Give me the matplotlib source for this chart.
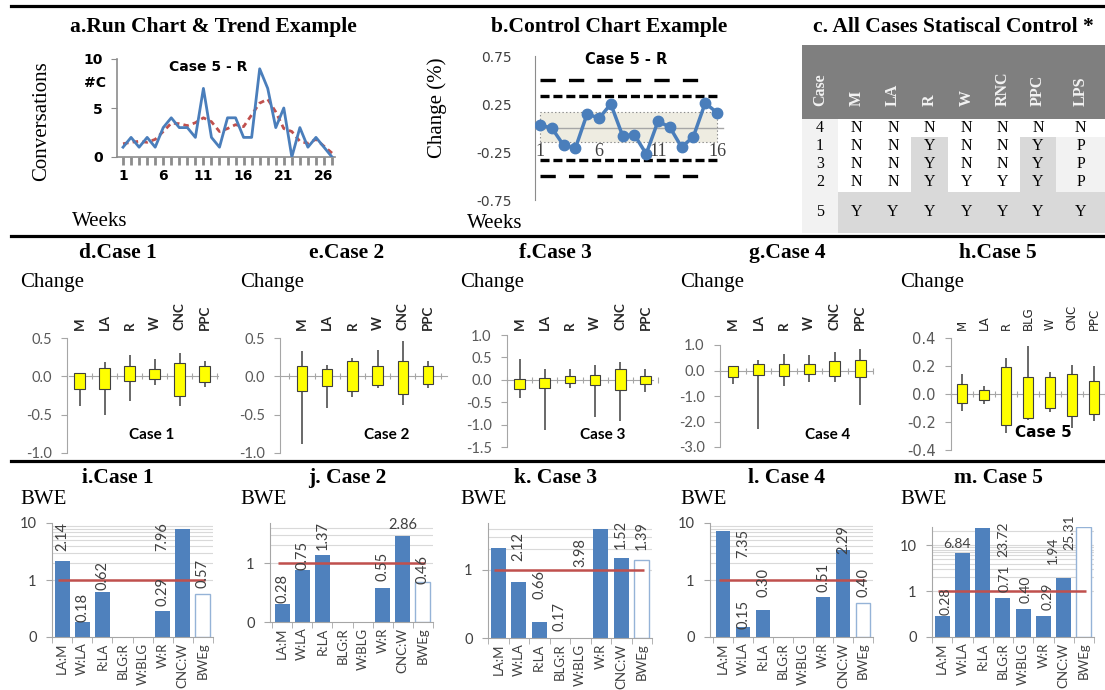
import numpy as np
import matplotlib
matplotlib.use("Agg")
import matplotlib.pyplot as plt
from matplotlib.patches import Rectangle
from matplotlib.lines import Line2D
from matplotlib import transforms

W, H = 1105, 690
SERIF = "Liberation Serif"
EXCEL = "Lato"
VERD = "DejaVu Sans"

# ---------------- data ----------------
# a. run chart, case 5 - R
run_weeks = list(range(1, 28))
run_conv = [1, 2, 1, 2, 1, 3, 4, 3, 3, 2, 7, 2, 1, 4, 4, 2, 2, 9, 7, 3, 5, 0, 3, 1, 2, 1, 0]
run_trend = [1.35, 1.5, 1.6, 1.5, 1.8, 2.6, 3.45, 3.4, 3.2, 3.5, 4.0, 3.6, 2.6, 2.9,
             3.3, 3.1, 4.3, 5.5, 5.9, 4.6, 2.9, 2.6, 1.6, 1.4, 1.8, 1.1, 0.4]
run_xticks = [1, 6, 11, 16, 21, 26]
run_yticks = [0, 5, 10]

# b. control chart, case 5 - R
ctrl_weeks = list(range(1, 17))
ctrl_change = [0.03, 0.0, -0.18, -0.21, 0.15, 0.10, 0.25, -0.08, -0.07, -0.27,
               0.07, 0.01, -0.20, -0.09, 0.26, 0.16]
ctrl_outer = 0.5
ctrl_inner = 0.33
ctrl_band = (-0.15, 0.17)
ctrl_yticks = [0.75, 0.25, -0.25, -0.75]
ctrl_xlabels = [1, 6, 11, 16]

# c. statistical control table
table_cols = ["Case", "M", "LA", "R", "W", "RNC", "PPC", "LPS"]
table_cases = ["4", "1", "3", "2", "5"]
table_vals = [
    ["N", "N", "N", "N", "N", "N", "N"],
    ["N", "N", "Y", "N", "N", "Y", "P"],
    ["N", "N", "Y", "N", "N", "Y", "P"],
    ["N", "N", "Y", "Y", "Y", "Y", "P"],
    ["Y", "Y", "Y", "Y", "Y", "Y", "Y"],
]

# d-h. weekly change boxes (q1, q3, min, max)
box_cats = ["M", "LA", "R", "W", "CNC", "PPC"]
box_cats5 = ["M", "LA", "R", "BLG", "W", "CNC", "PPC"]
c1_q1 = [-0.16, -0.16, -0.06, -0.03, -0.25, -0.08]
c1_q3 = [0.04, 0.11, 0.14, 0.09, 0.17, 0.14]
c1_lo = [-0.39, -0.51, -0.32, -0.11, -0.39, -0.14]
c1_hi = [0.04, 0.19, 0.28, 0.22, 0.30, 0.20]
c2_q1 = [-0.19, -0.12, -0.19, -0.11, -0.23, -0.10]
c2_q3 = [0.14, 0.10, 0.20, 0.13, 0.20, 0.13]
c2_lo = [-0.88, -0.41, -0.27, -0.15, -0.38, -0.15]
c2_hi = [0.33, 0.15, 0.24, 0.35, 0.46, 0.20]
c3_q1 = [-0.20, -0.18, -0.08, -0.11, -0.23, -0.10]
c3_q3 = [0.01, 0.05, 0.09, 0.11, 0.25, 0.09]
c3_lo = [-0.40, -1.13, -0.19, -0.83, -0.93, -0.28]
c3_hi = [0.46, 0.24, 0.24, 0.33, 0.39, 0.24]
c4_q1 = [-0.25, -0.16, -0.20, -0.12, -0.22, -0.25]
c4_q3 = [0.17, 0.25, 0.25, 0.25, 0.37, 0.40]
c4_lo = [-0.54, -2.30, -0.62, -0.45, -0.45, -1.35]
c4_hi = [0.17, 0.42, 0.65, 0.59, 0.71, 0.84]
c5_q1 = [-0.065, -0.04, -0.22, -0.17, -0.10, -0.16, -0.145]
c5_q3 = [0.07, 0.03, 0.195, 0.12, 0.12, 0.14, 0.09]
c5_lo = [-0.12, -0.07, -0.275, -0.185, -0.125, -0.24, -0.19]
c5_hi = [0.14, 0.06, 0.255, 0.34, 0.16, 0.21, 0.20]

# i-m. BWE ratios (log scale); NaN = no bar
ratios = ["LA:M", "W:LA", "R:LA", "BLG:R", "W:BLG", "W:R", "CNC:W", "BWEg"]
nan = float("nan")
bwe1 = [2.14, 0.18, 0.62, nan, nan, 0.29, 7.96, 0.57]
bwe1_lbl = ["2.14", "0.18", "0.62", "", "", "0.29", "7.96", "0.57"]
bwe2 = [0.20, 0.77, 1.39, nan, nan, 0.38, 2.93, 0.47]
bwe2_lbl = ["0.28", "0.75", "1.37", "", "", "0.55", "2.86", "0.46"]
bwe3 = [2.12, 0.66, 0.17, nan, nan, 3.98, 1.52, 1.39]
bwe3_lbl = ["2.12", "0.66", "0.17", "", "", "3.98", "1.52", "1.39"]
bwe4 = [7.35, 0.15, 0.30, nan, nan, 0.51, 3.3, 0.40]
bwe4_lbl = ["7.35", "0.15", "0.30", "", "", "0.51", "2.29", "0.40"]
bwe5 = [0.28, 6.84, 23.72, 0.71, 0.40, 0.29, 1.94, 25.31]
bwe5_lbl = ["0.28", "6.84", "23.72", "0.71", "0.40", "0.29", "1.94", "25.31"]

# where Excel put each data label: (bar index, x slot, y, rotation)
lbl_pos1 = [(0, 0, 5.7, 90), (1, 1, 0.33, 90), (2, 2, 1.22, 90), (5, 5, 0.62, 90),
            (6, 5, 5.8, 90), (7, 7, 1.28, 90)]
lbl_pos2 = [(0, 0, 0.37, 90), (1, 1, 1.34, 90), (2, 2, 2.94, 90), (5, 5, 0.88, 90),
            (6, 6, 4.4, 0), (7, 7, 0.77, 90)]
lbl_pos3 = [(0, 1, 2.19, 90), (1, 2, 0.62, 90), (2, 3, 0.21, 90), (5, 4, 1.79, 90),
            (6, 6, 3.36, 90), (7, 7, 3.15, 90)]
lbl_pos4 = [(0, 1, 4.4, 90), (1, 1, 0.25, 90), (2, 2, 0.90, 90), (5, 5, 1.11, 90),
            (6, 6, 5.2, 90), (7, 7, 0.90, 90)]
lbl_pos5 = [(0, 0.15, 0.61, 90), (1, 0.75, 10.5, 0), (2, 3.0, 13.4, 90), (3, 3.1, 1.9, 90),
            (4, 4.1, 1.1, 90), (5, 5.2, 0.79, 90), (6, 5.45, 7.9, 90), (7, 6.3, 19, 90)]

# ---------------- helpers ----------------
plt.rcParams["font.family"] = EXCEL
plt.rcParams["lines.scale_dashes"] = False
fig = plt.figure(figsize=(W / 100, H / 100), dpi=100)


def add_ax(left, top, right, bottom):
    return fig.add_axes([left / W, 1 - bottom / H, (right - left) / W, (bottom - top) / H])


def ftext(x, y, s, **kw):
    fig.text(x / W, 1 - y / H, s, **kw)


# separators
for yy in (6, 236, 461):
    fig.add_artist(Line2D([11 / W, 1], [1 - yy / H] * 2, color="black", lw=2.3))

title_kw = dict(family=SERIF, weight="bold", fontsize=15.5, ha="center", va="center")
label_kw = dict(family=SERIF, fontsize=15, va="center")

# ---------------- a ----------------
ftext(213, 27, "a.Run Chart & Trend Example", **title_kw)
ax = add_ax(117, 59, 335, 157)
ax.plot(run_weeks, run_conv, color="#4a7ebb", lw=2, zorder=3)
ax.plot(run_weeks, run_trend, color="#c0504d", lw=2, ls=(0, (4, 3)), zorder=2)
ax.set_xlim(0.25, 27.37)
ax.set_ylim(0, 10)
for s in ("top", "right"):
    ax.spines[s].set_visible(False)
for s in ("left", "bottom"):
    ax.spines[s].set_color("#8c8c8c")
    ax.spines[s].set_linewidth(1.2)
ax.set_xticks(run_xticks)
ax.set_xticks(run_weeks, minor=True)
ax.set_yticks(run_yticks)
ax.tick_params(axis="x", which="both", length=6, width=2, color="#8c8c8c", pad=3)
ax.tick_params(axis="y", length=4, color="#8c8c8c", pad=6)
for lab in ax.get_xticklabels() + ax.get_yticklabels():
    lab.set_family(VERD)
    lab.set_weight("bold")
    lab.set_fontsize(10)
ax.patch.set_alpha(0)
ftext(95, 83, "#C", family=VERD, weight="bold", fontsize=10, ha="center", va="center")
ftext(208, 67, "Case 5 - R", family=VERD, weight="bold", fontsize=10, ha="center", va="center")
fig.text(42 / W, 1 - 121 / H, "Conversations", family=SERIF, fontsize=15,
         rotation=90, ha="center", va="center")
ftext(72, 222, "Weeks", ha="left", **label_kw)

# ---------------- b ----------------
ftext(609, 27, "b.Control Chart Example", **title_kw)
ax = add_ax(535, 56, 725, 200)
ax.set_xlim(0.576, 16.68)
ax.set_ylim(-0.75, 0.75)
ax.add_patch(Rectangle((ctrl_weeks[0], ctrl_band[0]), ctrl_weeks[-1] - ctrl_weeks[0],
                       ctrl_band[1] - ctrl_band[0], facecolor="#eeece1",
                       edgecolor="#8c8c8c", ls=":", lw=0.8, zorder=1))
ax.plot([ctrl_weeks[0], 16.5], [0, 0], color="#a6a6a6", lw=1, zorder=1.5)
for v in (ctrl_outer, -ctrl_outer):
    ax.plot([ctrl_weeks[0], 14.8], [v, v], color="black", lw=2.4,
            ls=(0, (11, 9.5)), zorder=2)
for v in (ctrl_inner, -ctrl_inner):
    ax.plot([ctrl_weeks[0], ctrl_weeks[-1]], [v, v], color="black", lw=2.4,
            ls=(0, (6.5, 2.8)), zorder=2)
ax.plot(ctrl_weeks, ctrl_change, color="#4a7ebb", lw=2.5, marker="o", ms=7.5, zorder=3)
for s in ("top", "right", "bottom"):
    ax.spines[s].set_visible(False)
ax.spines["left"].set_color("#8c8c8c")
ax.set_xticks([])
ax.set_yticks(ctrl_yticks)
ax.set_yticklabels([f"{v:.2f}" for v in ctrl_yticks])
ax.tick_params(axis="y", length=0, pad=17, labelsize=10, labelcolor="#404040")
for lab in ax.get_yticklabels():
    lab.set_family(VERD)
for w in ctrl_xlabels:
    ax.text(w, -0.25, str(w), family=SERIF, fontsize=13, ha="center", va="center",
            color="#404040", zorder=4)
ax.patch.set_alpha(0)
ftext(626, 60, "Case 5 - R", family=VERD, weight="bold", fontsize=10.5, ha="center", va="center")
fig.text(437 / W, 1 - 108 / H, "Change (%)", family=SERIF, fontsize=15,
         rotation=90, ha="center", va="center")
ftext(467, 223, "Weeks", ha="left", **label_kw)

# ---------------- c ----------------
ftext(953, 27, "c. All Cases Statiscal Control *", **title_kw)
col_edges = [802, 838, 875, 911, 948, 985, 1020, 1056, 1105]
row_edges = [119, 137, 155, 173, 192, 233]
ax = add_ax(802, 45, 1105, 233)
ax.set_xlim(802, 1105)
ax.set_ylim(233, 45)
ax.axis("off")
ax.add_patch(Rectangle((col_edges[0], 45), col_edges[-1] - col_edges[0], row_edges[0] - 45,
                       facecolor="#7f7f7f", edgecolor="none"))
for j, name in enumerate(table_cols):
    cx = (col_edges[j] + col_edges[j + 1]) / 2
    ax.text(cx, 106, name, rotation=90, ha="center", va="bottom", family=SERIF,
            weight="bold", fontsize=11.5, color="#f2f2f2")
for i, case in enumerate(table_cases):
    y0, y1 = row_edges[i], row_edges[i + 1]
    cy = (y0 + y1) / 2
    last = i == len(table_cases) - 1
    ax.add_patch(Rectangle((col_edges[0], y0), col_edges[1] - col_edges[0], y1 - y0,
                           facecolor="#f2f2f2", edgecolor="none"))
    ax.text((col_edges[0] + col_edges[1]) / 2, cy, case, ha="center", va="center",
            family=SERIF, fontsize=11.5)
    for j, v in enumerate(table_vals[i]):
        name = table_cols[j + 1]
        if last:
            fc = "#d9d9d9"
        elif i > 0 and name in ("R", "PPC"):
            fc = "#d9d9d9"
        elif v == "P":
            fc = "#f2f2f2"
        else:
            fc = "white"
        ax.add_patch(Rectangle((col_edges[j + 1], y0), col_edges[j + 2] - col_edges[j + 1],
                               y1 - y0, facecolor=fc, edgecolor="none"))
        ax.text((col_edges[j + 1] + col_edges[j + 2]) / 2, cy, v, ha="center", va="center",
                family=SERIF, fontsize=11.5)


# ---------------- d-h ----------------
def box_panel(title, tx, lx, rect, xlim, ylim, yticks, cats, q1, q3, lo, hi, case_xy,
              case_txt, font=EXCEL, cat_bold=True):
    ftext(tx, 253, title, **title_kw)
    ftext(lx, 282, "Change", ha="left", **label_kw)
    ax = add_ax(*rect)
    x = np.arange(len(cats))
    ax.vlines(x, lo, hi, color="#404040", lw=1.1, zorder=2)
    ax.bar(x, np.subtract(q3, q1), bottom=q1, width=0.42, color="#ffff00",
           edgecolor="#404040", lw=0.8, zorder=3)
    ax.set_xlim(*xlim)
    ax.set_ylim(*ylim)
    for s in ("top", "right"):
        ax.spines[s].set_visible(False)
    ax.spines["bottom"].set_position(("data", 0))
    ax.spines["bottom"].set_bounds(xlim[0], xlim[1])
    for s in ("left", "bottom"):
        ax.spines[s].set_color("#a6a6a6")
    ax.set_xticks(np.arange(-0.5, len(cats), 1))
    ax.set_xticklabels([])
    ax.tick_params(axis="x", direction="inout", length=4, color="#a6a6a6")
    ax.set_yticks(yticks)
    ax.set_yticklabels([f"{v:.1f}" for v in yticks])
    ax.tick_params(axis="y", length=4, color="#a6a6a6", pad=7, labelsize=10.5,
                   labelcolor="#595959")
    for lab in ax.get_yticklabels():
        lab.set_family(font)
    trans = transforms.blended_transform_factory(ax.transData, fig.transFigure)
    for xi, c in zip(x, cats):
        ax.text(xi, 1 - 330 / H, c, transform=trans, rotation=90, ha="center", va="bottom",
                family=font, weight="bold" if cat_bold else "normal",
                fontsize=9.5 if cat_bold else 8.5, color="#262626")
    ax.patch.set_alpha(0)
    ftext(case_xy[0], case_xy[1], case_txt, family=font, weight="bold", fontsize=11,
          ha="center", va="center", zorder=5)


box_panel("d.Case 1", 118, 20, (67, 338, 218, 453), (-0.43, 5.53), (-1.0, 0.5),
          [0.5, 0.0, -0.5, -1.0], box_cats, c1_q1, c1_q3, c1_lo, c1_hi, (152, 435), "Case 1")
box_panel("e.Case 2", 347, 240, (280, 338, 447, 453), (-0.87, 5.75), (-1.0, 0.5),
          [0.5, 0.0, -0.5, -1.0], box_cats, c2_q1, c2_q3, c2_lo, c2_hi, (387, 435), "Case 2")
box_panel("f.Case 3", 555, 460, (507, 335, 658, 447), (-0.5, 5.3), (-1.5, 1.0),
          [1.0, 0.5, 0.0, -0.5, -1.0, -1.5], box_cats, c3_q1, c3_q3, c3_lo, c3_hi,
          (603, 435), "Case 3")
box_panel("g.Case 4", 787, 680, (720, 345, 873, 447), (-0.51, 5.47), (-3.0, 1.0),
          [1.0, 0.0, -1.0, -2.0, -3.0], box_cats, c4_q1, c4_q3, c4_lo, c4_hi,
          (828, 435), "Case 4")
box_panel("h.Case 5", 998, 900, (951, 338, 1105, 450), (-0.5, 6.44), (-0.4, 0.4),
          [0.4, 0.2, 0.0, -0.2, -0.4], box_cats5, c5_q1, c5_q3, c5_lo, c5_hi,
          (1043, 432), "Case 5", font=VERD, cat_bold=False)


# ---------------- i-m ----------------
def bwe_panel(title, tx, lx, rect, xlim, ytop, yticks, ylabels, vals, labels, positions,
              lsize=10.5):
    base = 0.1
    ftext(tx, 478, title, **title_kw)
    ftext(lx, 500, "BWE", ha="left", **label_kw)
    ax = add_ax(*rect)
    ax.set_yscale("log")
    ax.set_xlim(*xlim)
    ax.set_ylim(base, ytop)
    grid_vals = [v for v in list(range(1, 10)) + [10, 20] if v < ytop]
    ax.hlines(grid_vals, xlim[0], xlim[1], color="#d9d9d9", lw=0.8, zorder=0)
    x = np.arange(len(vals))
    heights = np.array(vals, dtype=float) - base
    ax.bar(x[:-1], heights[:-1], bottom=base, width=0.74, color="#4f81bd", zorder=2)
    ax.bar(x[-1:], heights[-1:], bottom=base, width=0.74, facecolor="white",
           edgecolor="#95b3d7", lw=1, zorder=2)
    ax.hlines(1, -0.2, 7.1, color="#c0504d", lw=1.8, zorder=4)
    for idx, px, py, rot in positions:
        ax.text(px, py, labels[idx], rotation=rot, ha="center", va="center", fontsize=lsize,
                color="#404040", zorder=5, clip_on=False)
    for s in ("top", "right"):
        ax.spines[s].set_visible(False)
    for s in ("left", "bottom"):
        ax.spines[s].set_color("#a6a6a6")
    ax.set_xticks(x)
    ax.set_xticklabels(ratios, rotation=90, fontsize=9.5, color="#404040")
    ax.set_xticks(np.arange(-0.5, len(vals), 1), minor=True)
    ax.tick_params(axis="x", which="major", length=0, pad=4)
    ax.tick_params(axis="x", which="minor", length=4, color="#a6a6a6")
    ax.set_yticks(yticks)
    ax.set_yticklabels(ylabels)
    ax.yaxis.set_minor_locator(matplotlib.ticker.NullLocator())
    ax.tick_params(axis="y", length=4, color="#a6a6a6", pad=7, labelsize=10.5,
                   labelcolor="#404040")
    ax.patch.set_alpha(0)


bwe_panel("i.Case 1", 118, 20, (52, 523, 213, 637), (-0.5, 7.5), 10, [0.1, 1, 10],
          ["0", "1", "10"], bwe1, bwe1_lbl, lbl_pos1)
bwe_panel("j. Case 2", 347, 240, (270, 523, 433, 622), (-0.6, 7.5), 4.8, [0.1, 1],
          ["0", "1"], bwe2, bwe2_lbl, lbl_pos2)
bwe_panel("k. Case 3", 555, 460, (488, 523, 652, 638), (-0.49, 7.5), 4.9, [0.1, 1],
          ["0", "1"], bwe3, bwe3_lbl, lbl_pos3)
bwe_panel("l. Case 4", 787, 680, (710, 523, 873, 637), (-0.65, 7.5), 10, [0.1, 1, 10],
          ["0", "1", "10"], bwe4, bwe4_lbl, lbl_pos4)
bwe_panel("m. Case 5", 998, 900, (932, 527, 1094, 637), (-0.5, 7.5), 25, [0.1, 1, 10],
          ["0", "1", "10"], bwe5, bwe5_lbl, lbl_pos5, lsize=10)

fig.savefig("out.png", dpi=100)
